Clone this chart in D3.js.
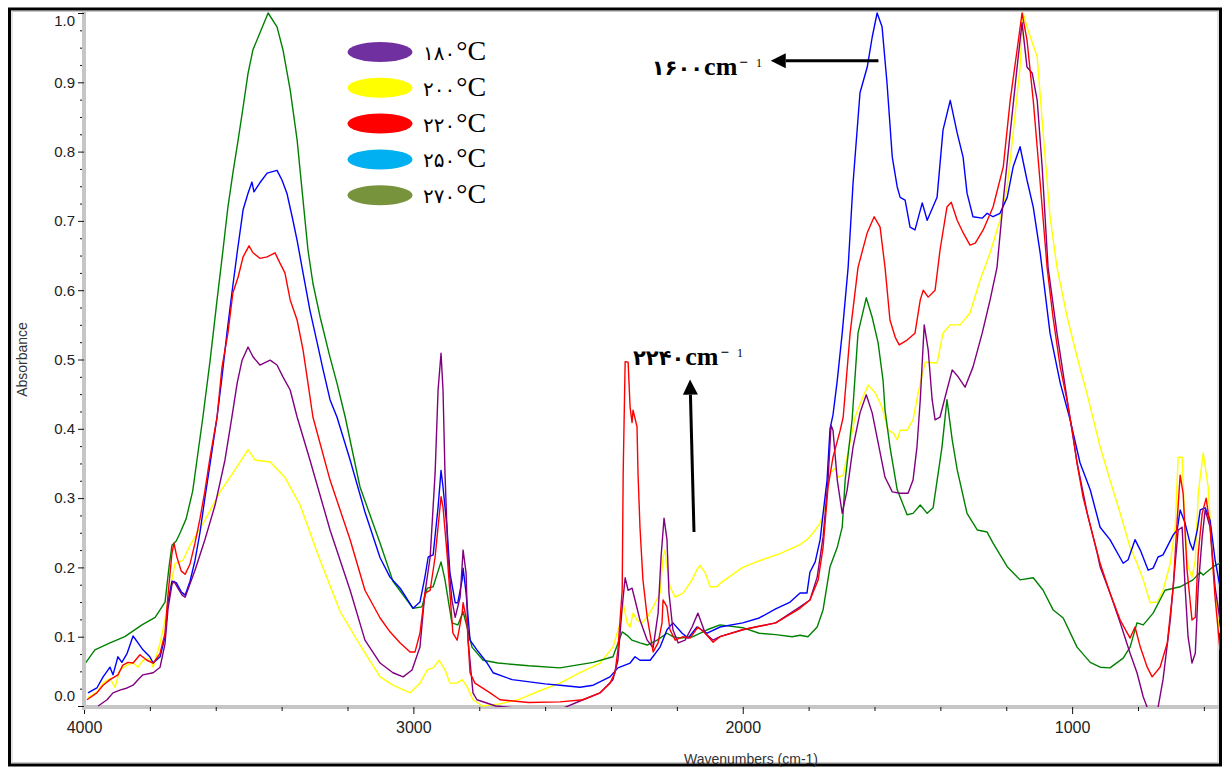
<!DOCTYPE html>
<html>
<head>
<meta charset="utf-8">
<script src="https://cdn.jsdelivr.net/npm/d3@7"></script>
<style>
  html, body { margin: 0; padding: 0; background: #fff; }
  svg { display: block; }
</style>
</head>
<body>
<svg id="chart" width="1224" height="767"></svg>
<script>
// FTIR spectra, [wavenumber cm-1, absorbance]
const s180 = [[3957,0.0],[3930,0.009],[3912,0.019],[3891,0.023],[3869,0.026],[3851,0.03],[3836,0.038],[3821,0.045],[3790,0.048],[3769,0.056],[3754,0.09],[3745,0.14],[3733,0.175],[3727,0.18],[3715,0.17],[3702,0.16],[3693,0.157],[3663,0.196],[3633,0.24],[3602,0.29],[3572,0.355],[3551,0.417],[3535,0.466],[3520,0.499],[3502,0.518],[3487,0.504],[3466,0.492],[3435,0.499],[3414,0.492],[3396,0.475],[3374,0.456],[3353,0.417],[3314,0.355],[3253,0.254],[3192,0.167],[3147,0.095],[3101,0.062],[3062,0.048],[3031,0.042],[3004,0.052],[2980,0.085],[2965,0.163],[2949,0.215],[2934,0.336],[2925,0.456],[2916,0.509],[2910,0.456],[2904,0.336],[2895,0.215],[2883,0.153],[2873,0.128],[2858,0.157],[2849,0.225],[2840,0.192],[2834,0.095],[2819,0.019],[2807,0.009],[2750,0.0],[2650,-0.005],[2550,-0.004],[2485,0.009],[2433,0.019],[2394,0.038],[2379,0.066],[2366,0.143],[2357,0.185],[2348,0.167],[2336,0.17],[2327,0.153],[2312,0.124],[2290,0.095],[2272,0.084],[2257,0.134],[2248,0.215],[2239,0.271],[2230,0.24],[2224,0.163],[2212,0.11],[2196,0.091],[2175,0.095],[2154,0.114],[2136,0.134],[2114,0.105],[2090,0.095],[2069,0.1],[2000,0.11],[1950,0.115],[1900,0.12],[1826,0.143],[1796,0.153],[1774,0.186],[1756,0.244],[1741,0.326],[1732,0.405],[1726,0.398],[1713,0.326],[1698,0.278],[1683,0.312],[1665,0.374],[1644,0.423],[1625,0.449],[1607,0.423],[1589,0.38],[1568,0.33],[1546,0.309],[1522,0.307],[1498,0.307],[1483,0.326],[1471,0.374],[1461,0.442],[1449,0.55],[1437,0.514],[1425,0.442],[1416,0.413],[1401,0.417],[1380,0.456],[1364,0.485],[1346,0.475],[1325,0.46],[1301,0.489],[1273,0.538],[1249,0.586],[1228,0.633],[1209,0.73],[1188,0.827],[1167,0.922],[1152,0.986],[1137,0.922],[1121,0.913],[1106,0.874],[1091,0.778],[1073,0.633],[1046,0.538],[1015,0.442],[985,0.351],[954,0.278],[924,0.221],[915,0.201],[885,0.163],[854,0.12],[824,0.076],[803,0.048],[784,0.013],[772,-0.002],[757,-0.03],[739,-0.002],[724,0.038],[702,0.124],[687,0.206],[678,0.254],[666,0.258],[657,0.172],[648,0.1],[636,0.062],[626,0.076],[617,0.172],[605,0.244],[596,0.283],[581,0.258],[566,0.172],[551,0.124]];

const s200 = [[3988,0.012],[3961,0.02],[3942,0.033],[3921,0.04],[3906,0.027],[3891,0.052],[3869,0.059],[3851,0.062],[3836,0.056],[3821,0.066],[3800,0.069],[3790,0.056],[3769,0.091],[3754,0.124],[3745,0.153],[3724,0.205],[3700,0.21],[3678,0.232],[3633,0.268],[3587,0.309],[3541,0.341],[3502,0.37],[3481,0.355],[3435,0.352],[3390,0.33],[3344,0.29],[3283,0.21],[3222,0.136],[3162,0.088],[3101,0.042],[3062,0.03],[3010,0.019],[2980,0.033],[2958,0.052],[2940,0.055],[2922,0.066],[2904,0.052],[2889,0.033],[2867,0.033],[2852,0.038],[2837,0.028],[2819,0.009],[2790,0.0],[2737,0.003],[2677,0.01],[2616,0.022],[2555,0.033],[2494,0.048],[2433,0.062],[2394,0.085],[2372,0.12],[2363,0.148],[2351,0.12],[2342,0.114],[2333,0.134],[2321,0.124],[2306,0.12],[2290,0.128],[2272,0.143],[2251,0.163],[2242,0.215],[2236,0.225],[2230,0.201],[2221,0.172],[2205,0.157],[2181,0.163],[2154,0.182],[2139,0.197],[2130,0.203],[2114,0.192],[2099,0.172],[2078,0.172],[2069,0.177],[2000,0.2],[1947,0.21],[1887,0.22],[1826,0.233],[1805,0.24],[1786,0.25],[1765,0.264],[1750,0.287],[1735,0.336],[1720,0.343],[1710,0.33],[1695,0.333],[1680,0.367],[1659,0.417],[1635,0.446],[1619,0.463],[1598,0.452],[1577,0.431],[1559,0.398],[1543,0.394],[1531,0.384],[1522,0.398],[1501,0.398],[1483,0.413],[1468,0.45],[1461,0.466],[1446,0.496],[1410,0.495],[1392,0.538],[1370,0.55],[1340,0.55],[1310,0.567],[1279,0.615],[1249,0.654],[1219,0.701],[1197,0.749],[1179,0.827],[1158,0.922],[1149,1.0],[1137,0.98],[1121,0.957],[1106,0.937],[1088,0.827],[1067,0.706],[1046,0.633],[1015,0.561],[985,0.504],[954,0.449],[915,0.374],[885,0.326],[854,0.278],[824,0.229],[803,0.206],[784,0.182],[763,0.149],[742,0.15],[724,0.167],[702,0.206],[687,0.258],[678,0.359],[666,0.359],[657,0.254],[648,0.201],[636,0.186],[626,0.211],[617,0.307],[602,0.365],[587,0.316],[572,0.196],[557,0.124],[551,0.105]];

const s220 = [[3991,0.009],[3961,0.019],[3942,0.03],[3921,0.038],[3897,0.045],[3882,0.059],[3866,0.063],[3851,0.062],[3830,0.074],[3809,0.066],[3790,0.062],[3769,0.076],[3754,0.105],[3745,0.16],[3733,0.22],[3727,0.235],[3718,0.215],[3705,0.195],[3693,0.19],[3678,0.205],[3663,0.235],[3648,0.27],[3633,0.31],[3617,0.36],[3596,0.417],[3581,0.489],[3563,0.538],[3548,0.596],[3532,0.619],[3517,0.648],[3499,0.664],[3487,0.654],[3466,0.646],[3444,0.648],[3420,0.654],[3405,0.639],[3390,0.625],[3374,0.586],[3353,0.557],[3335,0.514],[3320,0.466],[3305,0.417],[3253,0.326],[3192,0.24],[3147,0.167],[3101,0.127],[3071,0.107],[3040,0.091],[3010,0.078],[2995,0.078],[2980,0.105],[2965,0.163],[2949,0.167],[2934,0.215],[2916,0.302],[2910,0.287],[2898,0.221],[2889,0.163],[2880,0.105],[2867,0.095],[2852,0.134],[2849,0.149],[2837,0.12],[2828,0.048],[2813,0.033],[2767,0.019],[2737,0.009],[2650,0.005],[2555,0.006],[2485,0.009],[2433,0.019],[2403,0.033],[2388,0.048],[2379,0.081],[2366,0.167],[2363,0.336],[2357,0.497],[2348,0.496],[2342,0.431],[2336,0.409],[2333,0.427],[2321,0.403],[2318,0.336],[2312,0.258],[2303,0.182],[2290,0.128],[2272,0.078],[2257,0.091],[2245,0.12],[2242,0.153],[2230,0.143],[2221,0.11],[2205,0.095],[2181,0.1],[2160,0.098],[2136,0.114],[2114,0.105],[2090,0.092],[2069,0.1],[2000,0.11],[1950,0.115],[1900,0.12],[1826,0.141],[1796,0.153],[1771,0.182],[1756,0.229],[1741,0.316],[1726,0.359],[1704,0.398],[1695,0.417],[1674,0.538],[1650,0.633],[1622,0.683],[1601,0.706],[1583,0.691],[1568,0.633],[1553,0.557],[1537,0.532],[1525,0.521],[1501,0.528],[1477,0.538],[1461,0.586],[1452,0.6],[1437,0.59],[1416,0.6],[1401,0.658],[1380,0.72],[1367,0.727],[1349,0.701],[1331,0.683],[1310,0.665],[1294,0.668],[1270,0.687],[1240,0.72],[1209,0.778],[1188,0.874],[1167,0.947],[1152,1.0],[1137,0.961],[1118,0.874],[1097,0.755],[1076,0.633],[1058,0.561],[1036,0.489],[1015,0.44],[997,0.39],[985,0.35],[967,0.302],[936,0.244],[915,0.206],[885,0.163],[854,0.124],[824,0.098],[809,0.114],[793,0.085],[772,0.056],[757,0.042],[733,0.056],[711,0.091],[693,0.172],[681,0.268],[672,0.333],[663,0.307],[651,0.196],[636,0.124],[626,0.128],[617,0.221],[605,0.278],[593,0.3],[581,0.258],[566,0.157],[551,0.081]];

const s250 = [[3988,0.019],[3961,0.026],[3942,0.042],[3921,0.056],[3912,0.045],[3897,0.071],[3885,0.063],[3869,0.076],[3851,0.101],[3836,0.091],[3821,0.081],[3800,0.071],[3790,0.062],[3769,0.071],[3754,0.1],[3745,0.15],[3733,0.18],[3720,0.178],[3705,0.165],[3693,0.16],[3678,0.18],[3663,0.21],[3648,0.25],[3633,0.3],[3617,0.35],[3596,0.417],[3581,0.475],[3566,0.538],[3551,0.596],[3535,0.654],[3517,0.716],[3502,0.74],[3490,0.756],[3484,0.742],[3466,0.755],[3444,0.769],[3414,0.773],[3399,0.759],[3384,0.74],[3368,0.706],[3353,0.672],[3335,0.625],[3314,0.571],[3292,0.524],[3274,0.485],[3253,0.442],[3232,0.417],[3192,0.355],[3147,0.28],[3101,0.214],[3071,0.186],[3040,0.17],[3001,0.141],[2980,0.15],[2965,0.186],[2955,0.215],[2940,0.218],[2925,0.287],[2916,0.34],[2910,0.316],[2898,0.258],[2889,0.192],[2873,0.149],[2865,0.149],[2852,0.182],[2849,0.199],[2840,0.163],[2828,0.095],[2807,0.081],[2776,0.062],[2758,0.048],[2700,0.038],[2600,0.032],[2555,0.03],[2494,0.027],[2454,0.03],[2403,0.042],[2379,0.055],[2342,0.062],[2327,0.071],[2312,0.066],[2281,0.066],[2251,0.085],[2230,0.11],[2212,0.12],[2184,0.105],[2166,0.098],[2139,0.114],[2108,0.105],[2069,0.114],[2000,0.12],[1950,0.127],[1900,0.14],[1856,0.15],[1826,0.163],[1805,0.163],[1796,0.193],[1780,0.208],[1765,0.24],[1756,0.278],[1744,0.326],[1735,0.4],[1726,0.42],[1713,0.47],[1698,0.538],[1680,0.633],[1665,0.755],[1644,0.885],[1622,0.922],[1607,0.965],[1592,1.0],[1577,0.98],[1562,0.899],[1546,0.792],[1531,0.749],[1522,0.734],[1507,0.73],[1492,0.691],[1477,0.687],[1455,0.726],[1440,0.701],[1410,0.734],[1392,0.831],[1370,0.874],[1349,0.827],[1331,0.792],[1319,0.74],[1301,0.706],[1273,0.704],[1258,0.711],[1240,0.706],[1219,0.711],[1197,0.734],[1179,0.778],[1158,0.807],[1137,0.759],[1118,0.72],[1097,0.654],[1067,0.538],[1036,0.466],[1006,0.413],[976,0.351],[945,0.312],[915,0.258],[885,0.24],[845,0.206],[830,0.211],[809,0.24],[793,0.225],[769,0.196],[754,0.199],[739,0.215],[724,0.218],[693,0.247],[681,0.254],[672,0.283],[657,0.264],[642,0.235],[633,0.225],[620,0.254],[611,0.283],[596,0.286],[581,0.268],[566,0.211],[551,0.172]];

const s270 = [[4000,0.059],[3967,0.081],[3921,0.091],[3876,0.1],[3824,0.117],[3784,0.128],[3754,0.15],[3742,0.2],[3733,0.232],[3720,0.238],[3708,0.25],[3690,0.27],[3670,0.31],[3657,0.355],[3639,0.417],[3617,0.499],[3596,0.586],[3578,0.658],[3563,0.72],[3548,0.769],[3532,0.817],[3517,0.864],[3502,0.913],[3487,0.947],[3466,0.971],[3441,1.0],[3414,0.98],[3396,0.947],[3374,0.889],[3353,0.817],[3335,0.73],[3320,0.658],[3305,0.61],[3283,0.561],[3253,0.503],[3232,0.466],[3207,0.417],[3162,0.316],[3101,0.235],[3062,0.18],[3001,0.141],[2974,0.143],[2958,0.17],[2940,0.172],[2916,0.208],[2904,0.182],[2883,0.12],[2865,0.117],[2849,0.136],[2837,0.114],[2822,0.085],[2788,0.066],[2743,0.062],[2650,0.058],[2555,0.055],[2454,0.063],[2394,0.071],[2366,0.107],[2351,0.102],[2336,0.095],[2312,0.091],[2290,0.088],[2260,0.095],[2230,0.105],[2212,0.1],[2190,0.098],[2151,0.1],[2108,0.11],[2069,0.117],[2000,0.113],[1950,0.105],[1900,0.103],[1850,0.1],[1826,0.102],[1802,0.1],[1774,0.114],[1756,0.139],[1735,0.201],[1713,0.229],[1698,0.258],[1689,0.326],[1668,0.413],[1650,0.538],[1625,0.589],[1607,0.561],[1589,0.524],[1574,0.47],[1568,0.427],[1553,0.374],[1531,0.312],[1501,0.276],[1483,0.278],[1461,0.29],[1440,0.278],[1422,0.286],[1395,0.374],[1380,0.442],[1364,0.384],[1349,0.341],[1319,0.278],[1288,0.254],[1258,0.251],[1240,0.235],[1197,0.201],[1158,0.182],[1118,0.185],[1088,0.167],[1058,0.139],[1027,0.127],[985,0.085],[945,0.063],[915,0.056],[885,0.055],[845,0.069],[824,0.085],[803,0.12],[784,0.117],[754,0.134],[718,0.167],[672,0.172],[633,0.182],[611,0.193],[602,0.189],[572,0.201],[551,0.206]];

const legendLabels = ["۱۸۰", "۲۰۰", "۲۲۰", "۲۵۰", "۲۷۰"];
const legendColors = ["#7030a0", "#ffff00", "#ff0000", "#00b0f0", "#77933c"];
const lineColors = ["#800080", "#ffff00", "#ff0000", "#0000ff", "#008000"];
const yTicks = [0, 0.1, 0.2, 0.3, 0.4, 0.5, 0.6, 0.7, 0.8, 0.9, 1.0];
const xTicks = [4000, 3000, 2000, 1000];

const series = [s180, s200, s220, s250, s270];
const drawOrder = [1, 4, 3, 0, 2];

const svg = d3.select("#chart");

const x = d3.scaleLinear().domain([4000, 551]).range([84, 1220]);
const y = d3.scaleLinear().domain([0, 1]).range([706, 13]);

// outer frame
svg.append("rect")
  .attr("x", 9.5).attr("y", 9).attr("width", 1211).attr("height", 756)
  .attr("fill", "none").attr("stroke", "#000").attr("stroke-width", 3);
svg.append("rect")
  .attr("x", 12).attr("y", 11.5).attr("width", 1206).attr("height", 751)
  .attr("fill", "none").attr("stroke", "#c8c8c8").attr("stroke-width", 1);

svg.append("clipPath").attr("id", "plotclip")
  .append("rect").attr("x", 84).attr("y", 10).attr("width", 1136).attr("height", 697);

// spectra
const line = d3.line().x(d => x(d[0])).y(d => y(d[1]));
svg.append("g").attr("clip-path", "url(#plotclip)")
  .selectAll("path")
  .data(drawOrder)
  .join("path")
  .attr("d", i => line(series[i]))
  .attr("fill", "none")
  .attr("stroke", i => lineColors[i])
  .attr("stroke-width", 1.4)
  .attr("stroke-linejoin", "round");

// y axis
const yMinor = d3.range(0, 1.0001, 0.025).filter(v => Math.abs(v * 10 - Math.round(v * 10)) > 1e-6);
const gyMinor = svg.append("g").attr("transform", "translate(84,0)")
  .call(d3.axisLeft(y).tickValues(yMinor).tickSize(4).tickFormat(""));
gyMinor.select(".domain").remove();
gyMinor.selectAll("line").attr("stroke", "#111");

const gy = svg.append("g").attr("transform", "translate(84,0)")
  .call(d3.axisLeft(y).tickValues(yTicks).tickSize(6).tickSizeOuter(0).tickPadding(3).tickFormat(d3.format(".1f")));
gy.select(".domain").attr("stroke", "#c6c6c6").attr("stroke-width", 4)
  .attr("d", `M0,${y(1) - 1}V${y(0) + 4}`);
gy.selectAll(".tick line").attr("stroke", "#111");
gy.selectAll(".tick text")
  .attr("font-family", "'Liberation Sans', Arial, sans-serif")
  .attr("font-size", 15).attr("fill", "#222")
  .attr("dy", d => d === 0 ? "-0.4em" : d === 1 ? "0.85em" : "0.32em");

// x axis
const xMinor = d3.range(4000, 550, -200).filter(v => v % 1000 !== 0);
const gxMinor = svg.append("g").attr("transform", "translate(0,707)")
  .call(d3.axisBottom(x).tickValues(xMinor).tickSize(4).tickFormat(""));
gxMinor.select(".domain").remove();

const gx = svg.append("g").attr("transform", "translate(0,707)")
  .call(d3.axisBottom(x).tickValues(xTicks).tickSize(7).tickSizeOuter(0).tickPadding(8).tickFormat(d3.format("d")));
gx.select(".domain").attr("stroke", "#c6c6c6").attr("stroke-width", 4)
  .attr("d", `M${x(4000)},0H${x(551)}`);
gx.lower(); gxMinor.raise();
gx.selectAll(".tick line").attr("stroke", "#111");
gx.selectAll(".tick text")
  .attr("font-family", "'Liberation Sans Narrow', 'Liberation Sans', Arial, sans-serif")
  .attr("font-size", 16).attr("fill", "#222");
gxMinor.selectAll("line").attr("stroke", "#111");

// axis titles
svg.append("text")
  .attr("transform", `translate(27,${(y(0) + y(1)) / 2}) rotate(-90)`)
  .attr("text-anchor", "middle")
  .attr("font-family", "'Liberation Sans', Arial, sans-serif")
  .attr("font-size", 14).attr("fill", "#333")
  .text("Absorbance");
svg.append("text")
  .attr("x", x(1975)).attr("y", 764)
  .attr("text-anchor", "middle")
  .attr("font-family", "'Liberation Sans', Arial, sans-serif")
  .attr("font-size", 14).attr("fill", "#333")
  .text("Wavenumbers (cm-1)");

// legend
const legend = svg.append("g");
legendLabels.forEach((lab, i) => {
  const cy = 52 + i * 35.8;
  legend.append("ellipse")
    .attr("cx", 380).attr("cy", cy).attr("rx", 32.5).attr("ry", 10)
    .attr("fill", legendColors[i]);
  const t = legend.append("text")
    .attr("x", 423).attr("y", cy + 8)
    .attr("fill", "#000");
  t.append("tspan")
    .attr("font-family", "'DejaVu Sans', sans-serif")
    .attr("font-size", 20)
    .text(lab);
  t.append("tspan")
    .attr("font-family", "'Liberation Serif', 'Times New Roman', serif")
    .attr("font-size", 28)
    .attr("dx", 1)
    .text("°C");
});

// annotations
const notes = [
  { digits: "۱۶۰۰", at: [2276, 0.9105], from: [1588, 0.931], to: [1915, 0.931] },
  { digits: "۲۲۴۰", at: [2333, 0.492], from: [2148, 0.251], to: [2160, 0.471] }
];
notes.forEach(n => {
  const tx = x(n.at[0]), ty = y(n.at[1]);
  const t = svg.append("text").attr("x", tx).attr("y", ty).attr("fill", "#000");
  t.append("tspan")
    .attr("font-family", "'DejaVu Sans', sans-serif")
    .attr("font-weight", "bold").attr("font-size", 21)
    .text(n.digits);
  t.append("tspan")
    .attr("font-family", "'Liberation Serif', 'Times New Roman', serif")
    .attr("font-weight", "bold").attr("font-size", 26)
    .attr("dx", 1)
    .text("cm");
  t.append("tspan")
    .attr("font-family", "'Liberation Serif', 'Times New Roman', serif")
    .attr("font-weight", "bold").attr("font-size", 15)
    .attr("dx", 2).attr("dy", -8)
    .text("\u2212");
  t.append("tspan")
    .attr("font-family", "'Liberation Serif', 'Times New Roman', serif")
    .attr("font-size", 12)
    .attr("dx", 8)
    .text("1");

  const x1 = x(n.from[0]), y1 = y(n.from[1]);
  const x2 = x(n.to[0]), y2 = y(n.to[1]);
  const len = Math.hypot(x2 - x1, y2 - y1);
  const ux = (x2 - x1) / len, uy = (y2 - y1) / len;
  const hl = 15, hw = 7.5;
  const bx = x2 - ux * hl, by = y2 - uy * hl;
  svg.append("line")
    .attr("x1", x1).attr("y1", y1).attr("x2", bx).attr("y2", by)
    .attr("stroke", "#000").attr("stroke-width", 3);
  svg.append("path")
    .attr("d", `M${x2},${y2}L${bx - uy * hw},${by + ux * hw}L${bx + uy * hw},${by - ux * hw}Z`)
    .attr("fill", "#000");
});
</script>
</body>
</html>
